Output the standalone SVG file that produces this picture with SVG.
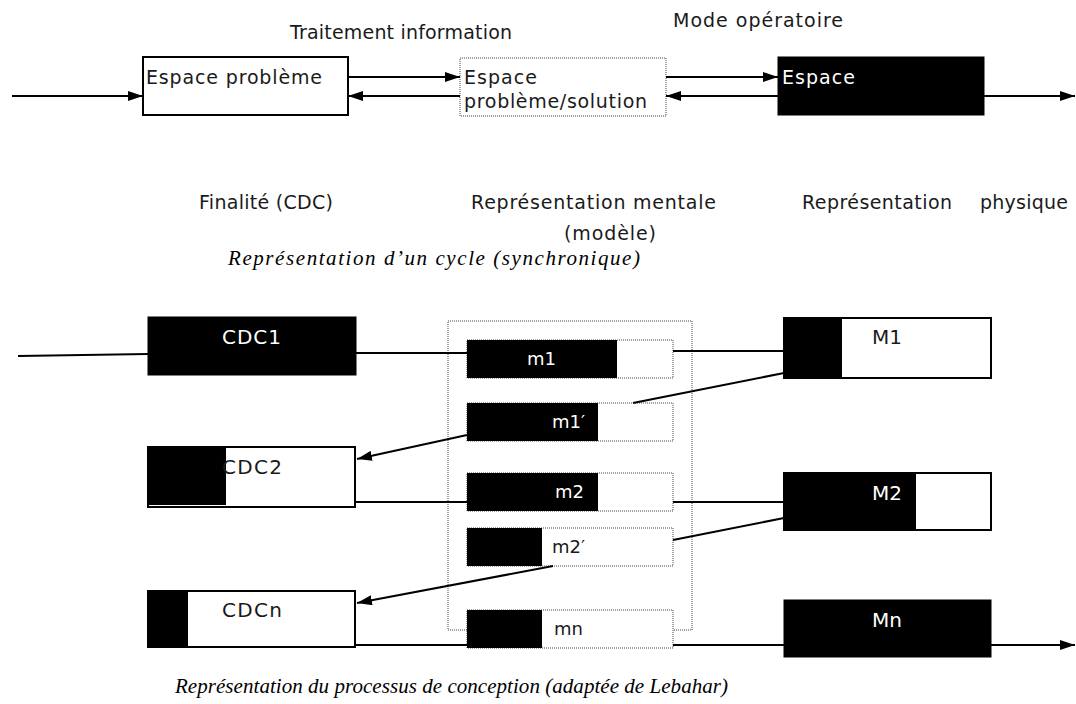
<svg xmlns="http://www.w3.org/2000/svg" width="1076" height="704" viewBox="0 0 1076 704">
<style>
  .lbl { font-family: "DejaVu Sans", "Liberation Sans", sans-serif; font-size: 19px; fill: #1a1a1a; }
  .nt { font-family: "DejaVu Sans", "Liberation Sans", sans-serif; font-size: 20px; }
  .ms { font-family: "DejaVu Sans", "Liberation Sans", sans-serif; font-size: 18px; }
  .w { fill: #ffffff; }
  .k { fill: #1a1a1a; }
  .cap { font-family: "Liberation Serif", "Times New Roman", serif; font-style: italic; font-size: 21px; fill: #000; }
  .solid { fill: #fff; stroke: #000; stroke-width: 2; }
  .blk { fill: #000; stroke: #000; stroke-width: 1; }
  .dot { fill: #fff; stroke: #444; stroke-width: 1; stroke-dasharray: 1 1; }
  .dotn { fill: none; stroke: #444; stroke-width: 1; stroke-dasharray: 1 1; }
  .ln { stroke: #000; stroke-width: 2; fill: none; }
</style>
<defs>
  <marker id="ah" markerUnits="userSpaceOnUse" markerWidth="15" markerHeight="10" refX="15" refY="5" orient="auto">
    <path d="M0,0 L15,5 L0,10 z" fill="#000"/>
  </marker>
</defs>
<rect width="1076" height="704" fill="#fff"/>

<!-- top labels -->
<text class="lbl" x="290" y="39" textLength="222">Traitement information</text>
<text class="lbl" x="673" y="27" textLength="170">Mode opératoire</text>

<g id="espace-probleme">
  <rect class="solid" x="143" y="57" width="205" height="58"/>
  <text class="lbl" x="146" y="84" textLength="176">Espace problème</text>
</g>
<g id="espace-probleme-solution">
  <rect class="dot" x="460" y="58" width="206" height="58"/>
  <text class="lbl" x="464" y="84" textLength="73">Espace</text>
  <text class="lbl" x="464" y="108" textLength="183">problème/solution</text>
</g>
<g id="espace-mode">
  <rect class="blk" x="778" y="57" width="206" height="58"/>
  <text class="lbl w" x="782" y="84" textLength="73">Espace</text>
</g>

<!-- middle labels -->
<text class="lbl" x="199" y="209" textLength="134">Finalité (CDC)</text>
<text class="lbl" x="471" y="209" textLength="245">Représentation mentale</text>
<text class="lbl" x="564" y="240" textLength="92">(modèle)</text>
<text class="lbl" x="802" y="209" textLength="150">Représentation</text>
<text class="lbl" x="980" y="209" textLength="88">physique</text>
<text class="cap" x="228" y="265" textLength="412">Représentation d’un cycle (synchronique)</text>

<!-- mental container -->
<g id="container-modele">
  <rect class="dotn" x="448" y="321" width="244" height="309"/>
</g>

<!-- CDC nodes -->
<g id="cdc1">
  <rect class="blk" x="148" y="317" width="208" height="58"/>
  <text class="nt w" x="222" y="344" textLength="59">CDC1</text>
</g>
<g id="cdc2">
  <rect class="solid" x="148" y="447" width="207" height="60"/>
  <rect fill="#000" x="148" y="446" width="78" height="59"/>
  <text class="nt k" x="222" y="474" textLength="60">CDC2</text>
</g>
<g id="cdcn">
  <rect class="solid" x="148" y="591" width="207" height="56"/>
  <rect fill="#000" x="148" y="591" width="40" height="56"/>
  <text class="nt k" x="222" y="617" textLength="60">CDCn</text>
</g>

<!-- m nodes -->
<g id="m1">
  <rect class="dot" x="467" y="340" width="206" height="38"/>
  <rect fill="#000" x="467" y="340" width="150" height="38"/>
  <text class="ms w" x="527" y="365">m1</text>
</g>
<g id="m1p">
  <rect class="dot" x="467" y="403" width="206" height="38"/>
  <rect fill="#000" x="467" y="403" width="131" height="38"/>
  <text class="ms w" x="552" y="428">m1′</text>
</g>
<g id="m2">
  <rect class="dot" x="467" y="473" width="206" height="38"/>
  <rect fill="#000" x="467" y="473" width="131" height="38"/>
  <text class="ms w" x="555" y="498">m2</text>
</g>
<g id="m2p">
  <rect class="dot" x="467" y="528" width="206" height="38"/>
  <rect fill="#000" x="467" y="528" width="75" height="38"/>
  <text class="ms k" x="552" y="553">m2′</text>
</g>
<g id="mn">
  <rect class="dot" x="467" y="610" width="206" height="38"/>
  <rect fill="#000" x="467" y="610" width="75" height="38"/>
  <text class="ms k" x="554" y="635">mn</text>
</g>

<!-- M nodes -->
<g id="M1">
  <rect class="solid" x="784" y="318" width="207" height="60"/>
  <rect fill="#000" x="784" y="318" width="58" height="60"/>
  <text class="nt k" x="872" y="344">M1</text>
</g>
<g id="M2">
  <rect class="solid" x="784" y="473" width="207" height="57"/>
  <rect fill="#000" x="784" y="473" width="132" height="57"/>
  <text class="nt w" x="872" y="500">M2</text>
</g>
<g id="Mn">
  <rect class="blk" x="784" y="600" width="207" height="57"/>
  <text class="nt w" x="872" y="627">Mn</text>
</g>

<text class="cap" x="175" y="693" textLength="553">Représentation du processus de conception (adaptée de Lebahar)</text>

<g id="connectors">
  <line class="ln" x1="12" y1="96" x2="143" y2="96" marker-end="url(#ah)"/>
  <line class="ln" x1="348" y1="77" x2="460" y2="77" marker-end="url(#ah)"/>
  <line class="ln" x1="460" y1="96" x2="348" y2="96" marker-end="url(#ah)"/>
  <line class="ln" x1="666" y1="77" x2="778" y2="77" marker-end="url(#ah)"/>
  <line class="ln" x1="778" y1="96" x2="666" y2="96" marker-end="url(#ah)"/>
  <line class="ln" x1="984" y1="96" x2="1075" y2="96" marker-end="url(#ah)"/>

  <line class="ln" x1="18" y1="356" x2="148" y2="354"/>
  <line class="ln" x1="356" y1="353" x2="467" y2="353"/>
  <line class="ln" x1="673" y1="351" x2="784" y2="351"/>
  <line class="ln" x1="784" y1="373" x2="633" y2="403"/>
  <line class="ln" x1="467" y1="435" x2="357" y2="459" marker-end="url(#ah)"/>
  <line class="ln" x1="355" y1="502" x2="467" y2="502"/>
  <line class="ln" x1="673" y1="502" x2="784" y2="502"/>
  <line class="ln" x1="784" y1="518" x2="673" y2="540"/>
  <line class="ln" x1="553" y1="566" x2="357" y2="603" marker-end="url(#ah)"/>
  <line class="ln" x1="355" y1="645" x2="467" y2="645"/>
  <line class="ln" x1="673" y1="645" x2="784" y2="645"/>
  <line class="ln" x1="991" y1="645" x2="1075" y2="645" marker-end="url(#ah)"/>
</g>
</svg>
